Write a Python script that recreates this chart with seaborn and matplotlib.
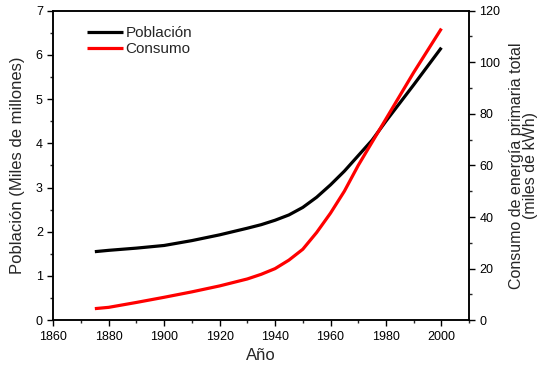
import matplotlib
matplotlib.use("Agg")
import matplotlib.pyplot as plt
from matplotlib.ticker import MultipleLocator
import pandas as pd
import seaborn as sns

# World population (billions) and total primary energy consumption (thousand kWh)
years = [1875, 1880, 1890, 1900, 1910, 1920, 1930, 1935, 1940, 1945, 1950,
         1955, 1960, 1965, 1970, 1975, 1980, 1985, 1990, 2000]
poblacion = [1.55, 1.58, 1.63, 1.69, 1.80, 1.93, 2.08, 2.16, 2.26, 2.38, 2.55,
             2.78, 3.06, 3.37, 3.72, 4.07, 4.50, 4.91, 5.32, 6.16]
consumo = [4.5, 5.0, 6.9, 8.9, 11.0, 13.3, 16.0, 17.8, 20.0, 23.3, 27.5,
           34.0, 41.5, 50.0, 60.0, 69.0, 78.0, 87.0, 96.0, 113.0]

df = pd.DataFrame({"Año": years, "Población": poblacion, "Consumo": consumo})

sns.set_style("ticks")
plt.rcParams["font.family"] = ["Liberation Sans", "DejaVu Sans"]
plt.rcParams["axes.linewidth"] = 1.1

fig = plt.figure(figsize=(5.38, 3.75), dpi=100)
ax = fig.add_axes([0.099, 0.146, 0.773, 0.826])
ax2 = ax.twinx()

sns.lineplot(data=df, x="Año", y="Población", ax=ax, color="black",
             linewidth=2.3, label="Población", legend=False)
sns.lineplot(data=df, x="Año", y="Consumo", ax=ax2, color="#ff0000",
             linewidth=2.3, label="Consumo", legend=False)
for a in (ax, ax2):
    for ln in a.get_lines():
        ln.set_solid_joinstyle("round")
        ln.set_solid_capstyle("butt")

ax.set_xlim(1860, 2010)
ax.set_ylim(0, 7)
ax2.set_ylim(0, 120)

ax.xaxis.set_major_locator(MultipleLocator(20))
ax.xaxis.set_minor_locator(MultipleLocator(10))
ax.yaxis.set_major_locator(MultipleLocator(1))
ax.yaxis.set_minor_locator(MultipleLocator(0.5))
ax2.yaxis.set_major_locator(MultipleLocator(20))
ax2.yaxis.set_minor_locator(MultipleLocator(10))

for a in (ax, ax2):
    a.tick_params(which="major", length=4.5, width=1.0, labelsize=9,
                  colors="black", pad=3)
    a.tick_params(which="minor", length=2.5, width=1.0)
    for s in a.spines.values():
        s.set_visible(True)
        s.set_color("black")
        s.set_linewidth(1.1)

ax.set_xlabel("Año", fontsize=12, labelpad=4)
ax.set_ylabel("Población (Miles de millones)", fontsize=12, labelpad=8)
ax2.set_ylabel("Consumo de energía primaria total\n(miles de kWh)",
               fontsize=11.5, labelpad=6, linespacing=0.95)

handles = ax.get_lines()[:1] + ax2.get_lines()[:1]
ax.legend(handles, ["Población", "Consumo"], loc="upper left",
          bbox_to_anchor=(0.073, 0.96), frameon=False, fontsize=11,
          handlelength=2.4, handletextpad=0.15, labelspacing=0.15,
          borderaxespad=0, borderpad=0.2)

fig.savefig("out.png", dpi=100)
